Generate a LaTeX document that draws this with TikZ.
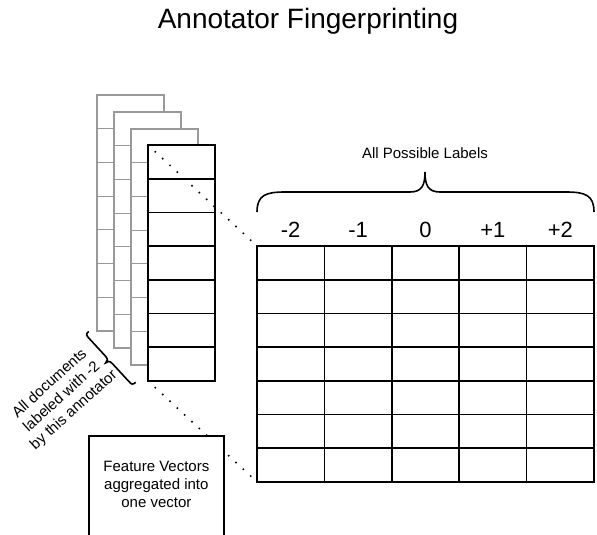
\documentclass[tikz,border=0pt]{standalone}
\usepackage{fontspec}
\setmainfont{Liberation Sans}

\begin{document}
\begin{tikzpicture}[x=1pt, y=-1pt,
    cell/.style={draw, fill=white, line width=1.7pt, minimum width=67.4pt, minimum height=33.7pt, inner sep=0pt, outer sep=0pt, anchor=north west},
    sheet/.style={draw=gray!80, fill=white, line width=1.2pt},
    dots/.style={line width=2.2pt, dash pattern=on 0pt off 10pt, line cap=round},
    brace/.style={line width=1.6pt},
    font=\fontsize{15}{18}\selectfont]
    \useasboundingbox (0,0) rectangle (597,535);
    \clip (0,0) rectangle (597,535);
    % Titel
    \node[anchor=base] (title) at (308,29) {\fontsize{28}{32}\selectfont Annotator Fingerprinting};
    % hintere Vektoren
    \foreach \s in {0,1,2} {
        \draw[sheet] ({97+17*\s},{95+17*\s}) rectangle +(67,235.9);
        \foreach \r in {1,...,6} \draw[sheet] ({97+17*\s},{95+17*\s+\r*33.7}) -- +(67,0);
    }
    % vorderer Vektor
    \foreach \r in {1,...,7} \node[cell, minimum width=67pt] (v-\r) at (148,{145+(\r-1)*33.7}) {};
    % Tabelle
    \foreach \r in {1,...,7}
        \foreach \c in {1,...,5} \node[cell] (t-\r-\c) at ({257+(\c-1)*67.4},{246+(\r-1)*33.7}) {};
    % Spaltenbeschriftung
    \foreach \l [count=\c] in {-2,-1,0,+1,+2}
        \node[anchor=base] (lbl-\c) at ({257+(\c-0.5)*67.4},237) {\fontsize{22}{26}\selectfont \l};
    % Klammer oben
    \draw[brace] (257,212) .. controls (257,195) and (266,192) .. (285,192) -- (410,192)
        .. controls (422,192) and (425,185) .. (425,172)
        .. controls (425,185) and (428,192) .. (440,192) -- (566,192)
        .. controls (585,192) and (594,195) .. (594,212);
    \node[anchor=base] (all) at (425,158) {All Possible Labels};
    % Klammer links
    \begin{scope}[shift={(111.5,357.5)}, rotate=-47.3]
        \draw[brace] (-34.7,-1) .. controls (-34.7,3.5) and (-33,3.5) .. (-29,3.5) -- (-5,3.5)
            .. controls (-1,3.5) and (0,5.5) .. (0,8)
            .. controls (0,5.5) and (1,3.5) .. (5,3.5) -- (29,3.5)
            .. controls (33,3.5) and (34.7,3.5) .. (34.7,-1);
    \end{scope}
    \node[align=center, rotate=42] (docs) at (62,397) {All documents\\labeled with -2\\by this annotator};
    % gepunktete Linien
    \draw[dots] (v-1.north west) -- (t-1-1.north west);
    \draw[dots] (v-7.south west) -- (t-7-1.south west);
    % Ergebnisvektor
    \node[draw, fill=white, line width=1.7pt, minimum width=135pt, minimum height=130pt, anchor=north west] (agg) at (88,435) {};
    \node[align=center, anchor=north] (aggtxt) at ([yshift=-23pt]agg.north) {Feature Vectors\\aggregated into\\one vector};
\end{tikzpicture}
\end{document}
